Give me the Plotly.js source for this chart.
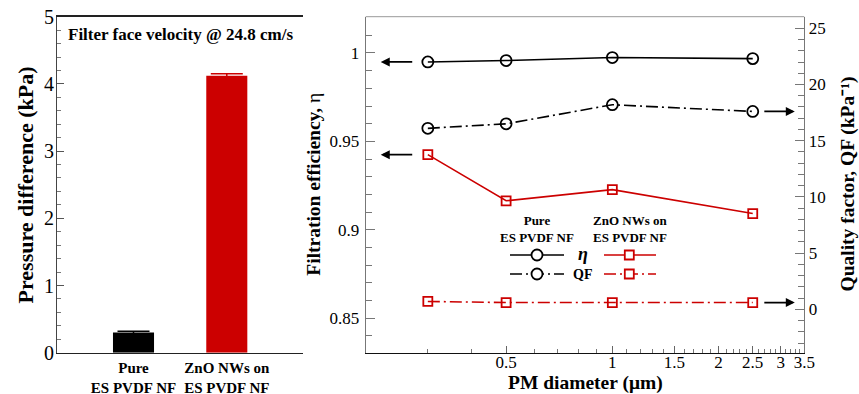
<!DOCTYPE html>
<html>
<head>
<meta charset="utf-8">
<script src="https://cdn.plot.ly/plotly-3.0.1.min.js"></script>
<style>html,body{margin:0;padding:0;background:#fff;}#chart{width:859px;height:394px;}</style>
</head>
<body>
<div id="chart"></div>
<script>
// ---- data ----
const categories = ['Pure<br>ES PVDF NF', 'ZnO NWs on<br>ES PVDF NF'];
const pressureDiff = [0.30, 4.12];
const pressureErr = [0.02, 0.03];
const barColors = ['#000000', '#cc0000'];

const pmDiameter = [0.3, 0.5, 1.0, 2.5];
const pureEta = [0.9949, 0.9957, 0.9974, 0.9968];
const znoEta = [0.9425, 0.9164, 0.9227, 0.9092];
const pureQF = [16.1, 16.5, 18.2, 17.6];
const znoQF = [0.7, 0.6, 0.6, 0.6];

const xTickVals = [0.5, 1, 1.5, 2, 2.5, 3, 3.5];
const xTickText = ['0.5', '1', '1.5', '2', '2.5', '3', '3.5'];

// ---- layout helpers ----
const W = 859, H = 394;
const FONT = 'Liberation Serif';
const RED = '#cc0000';
const px = v => v / W;
const py = v => 1 - v / H;
const yDom = [py(352.7), py(16.7)];
const dashDot = '12px,4px,2px,4px';

const minorX = [];
for (let k = 3; k <= 34; k++) { const v = k / 10; if (!xTickVals.some(t => Math.abs(t - v) < 1e-9)) minorX.push(v); }

const traces = [];
categories.forEach((c, i) => {
  traces.push({
    type: 'bar', x: [c], y: [pressureDiff[i]], xaxis: 'x', yaxis: 'y',
    width: 0.44, marker: {color: barColors[i], line: {width: 0}},
    error_y: {type: 'data', array: [pressureErr[i]], color: barColors[i], thickness: 1.5, width: 16},
    showlegend: false, hoverinfo: 'skip'
  });
});

traces.push({x: pmDiameter, y: pureEta, xaxis: 'x2', yaxis: 'y2', mode: 'lines+markers',
  line: {color: '#000', width: 1.6},
  marker: {symbol: 'circle-open', size: 11, color: '#000', line: {width: 1.8}}, showlegend: false});
traces.push({x: pmDiameter, y: znoEta, xaxis: 'x2', yaxis: 'y2', mode: 'lines+markers',
  line: {color: RED, width: 1.6},
  marker: {symbol: 'square-open', size: 9, color: RED, line: {width: 1.8}}, showlegend: false});
traces.push({x: pmDiameter, y: pureQF, xaxis: 'x2', yaxis: 'y3', mode: 'lines+markers',
  line: {color: '#000', width: 1.6, dash: dashDot},
  marker: {symbol: 'circle-open', size: 11, color: '#000', line: {width: 1.8}}, showlegend: false});
traces.push({x: pmDiameter, y: znoQF, xaxis: 'x2', yaxis: 'y3', mode: 'lines+markers',
  line: {color: RED, width: 1.6, dash: dashDot},
  marker: {symbol: 'square-open', size: 9, color: RED, line: {width: 1.8}}, showlegend: false});

// legend samples (hidden overlay axes, 0..1 over plot area)
const x2Dom = [px(365.7), px(804.3)];
const fx = v => (v - 365.7) / (804.3 - 365.7);
const fy = v => (352.7 - v) / (352.7 - 16.7);
const legRows = [
  {y: fy(255), dash: 'solid'},
  {y: fy(274), dash: dashDot}
];
legRows.forEach(r => {
  traces.push({x: [fx(510), fx(564)], y: [r.y, r.y], xaxis: 'x3', yaxis: 'y4', mode: 'lines',
    line: {color: '#000', width: 1.6, dash: r.dash}, showlegend: false, hoverinfo: 'skip'});
  traces.push({x: [fx(537)], y: [r.y], xaxis: 'x3', yaxis: 'y4', mode: 'markers',
    marker: {symbol: 'circle', size: 11, color: '#fff', line: {color: '#000', width: 1.8}}, showlegend: false, hoverinfo: 'skip'});
  traces.push({x: [fx(604), fx(656)], y: [r.y, r.y], xaxis: 'x3', yaxis: 'y4', mode: 'lines',
    line: {color: RED, width: 1.6, dash: r.dash}, showlegend: false, hoverinfo: 'skip'});
  traces.push({x: [fx(629.3)], y: [r.y], xaxis: 'x3', yaxis: 'y4', mode: 'markers',
    marker: {symbol: 'square', size: 9, color: '#fff', line: {color: RED, width: 1.8}}, showlegend: false, hoverinfo: 'skip'});
});

const arrowHeadLeftX = Math.log10(0.2206);
const arrowHeadRightX = Math.log10(3.29);
const last = pmDiameter.length - 1;

const arrowBase = {text: '', showarrow: true, arrowhead: 2, arrowsize: 1, arrowwidth: 1.8,
  arrowcolor: '#000', standoff: 0, startstandoff: 0, xref: 'x2'};

const bold = (size) => ({family: FONT, size: size, color: '#000', weight: 'bold'});

const annotations = [
  {text: 'Filter face velocity @ 24.8 cm/s', x: px(180), y: py(34.3), xref: 'paper', yref: 'paper',
    showarrow: false, font: bold(17), xanchor: 'center', yanchor: 'middle'},
  {text: 'Pressure difference (kPa)', x: px(25), y: py(185.5), xref: 'paper', yref: 'paper',
    showarrow: false, textangle: -90, font: bold(22), xanchor: 'center', yanchor: 'middle'},
  {text: '<b>Filtration efficiency,</b> η', x: px(314), y: py(184.7), xref: 'paper', yref: 'paper',
    showarrow: false, textangle: -90, font: {family: FONT, size: 19.5, color: '#000'}, xanchor: 'center', yanchor: 'middle'},
  {text: 'Quality factor, QF (kPa⁻¹)', x: px(847), y: py(184.5), xref: 'paper', yref: 'paper',
    showarrow: false, textangle: -90, font: bold(19.5), xanchor: 'center', yanchor: 'middle'},
  {text: 'PM diameter (μm)', x: px(585), y: py(383), xref: 'paper', yref: 'paper',
    showarrow: false, font: bold(19.5), xanchor: 'center', yanchor: 'middle'},
  {text: 'Pure<br>ES PVDF NF', x: px(537), y: py(229), xref: 'paper', yref: 'paper',
    showarrow: false, font: bold(13), xanchor: 'center', yanchor: 'middle'},
  {text: 'ZnO NWs on<br>ES PVDF NF', x: px(630), y: py(229), xref: 'paper', yref: 'paper',
    showarrow: false, font: bold(13), xanchor: 'center', yanchor: 'middle'},
  {text: '<i>η</i>', x: px(583.3), y: py(254), xref: 'paper', yref: 'paper',
    showarrow: false, font: bold(18), xanchor: 'center', yanchor: 'middle'},
  {text: 'QF', x: px(582), y: py(274.5), xref: 'paper', yref: 'paper',
    showarrow: false, font: bold(14), xanchor: 'center', yanchor: 'middle'},
  Object.assign({}, arrowBase, {x: arrowHeadLeftX, y: pureEta[0], yref: 'y2', ax: 33, ay: 0}),
  Object.assign({}, arrowBase, {x: arrowHeadLeftX, y: znoEta[0], yref: 'y2', ax: 33, ay: 0}),
  Object.assign({}, arrowBase, {x: arrowHeadRightX, y: pureQF[last], yref: 'y3', ax: -32, ay: 0}),
  Object.assign({}, arrowBase, {x: arrowHeadRightX, y: znoQF[last], yref: 'y3', ax: -32, ay: 0})
];

const grey = '#777';
const layout = {
  width: W, height: H, margin: {l: 0, r: 0, t: 0, b: 0},
  paper_bgcolor: '#fff', plot_bgcolor: '#fff',
  showlegend: false, barmode: 'overlay', hovermode: false,
  font: {family: FONT, color: '#000'},
  xaxis: {domain: [px(57), px(303.3)], anchor: 'y', type: 'category', range: [-0.82, 1.82],
    showgrid: false, zeroline: false, showline: true, linecolor: '#222', linewidth: 1.5, mirror: true,
    ticks: '', tickfont: bold(15), ticklabelstandoff: 1},
  yaxis: {domain: yDom, anchor: 'x', range: [0, 5], dtick: 1, showgrid: false, zeroline: false,
    showline: true, linecolor: '#444', linewidth: 1, ticks: 'inside', ticklen: 7, tickcolor: '#555',
    tickfont: {family: FONT, size: 20, color: '#000'}, ticklabelstandoff: -2,
    minor: {dtick: 0.2, ticks: 'inside', ticklen: 4, tickcolor: '#777', showgrid: false}},
  xaxis2: {domain: x2Dom, anchor: 'y2', type: 'log', range: [Math.log10(0.2), Math.log10(3.5)],
    tickmode: 'array', tickvals: xTickVals, ticktext: xTickText,
    showgrid: false, zeroline: false, showline: true, linecolor: '#111', linewidth: 1.5,
    ticks: 'inside', ticklen: 7, tickcolor: '#666', tickfont: {family: FONT, size: 17, color: '#000'},
    ticklabelstandoff: -7,
    minor: {tickmode: 'array', tickvals: minorX, ticks: 'inside', ticklen: 4, tickcolor: '#777', showgrid: false}},
  yaxis2: {domain: yDom, anchor: 'x2', range: [0.8305, 1.0205], tickmode: 'array',
    tickvals: [0.85, 0.9, 0.95, 1], ticktext: ['0.85', '0.9', '0.95', '1'],
    showgrid: false, zeroline: false, showline: true, linecolor: grey, linewidth: 1,
    ticks: 'inside', ticklen: 9, tickcolor: grey, tickfont: {family: FONT, size: 17, color: '#000'},
    ticklabelstandoff: 2,
    minor: {dtick: 0.01, tick0: 0.8, ticks: 'inside', ticklen: 6, tickcolor: grey, showgrid: false}},
  yaxis3: {domain: yDom, anchor: 'x2', overlaying: 'y2', side: 'right', range: [-3.86, 26.03],
    dtick: 5, tick0: 0, showgrid: false, zeroline: false, showline: true, linecolor: grey, linewidth: 1,
    ticks: 'inside', ticklen: 9, tickcolor: grey, tickfont: {family: FONT, size: 17, color: '#000'},
    minor: {dtick: 1, tick0: 0, ticks: 'inside', ticklen: 6, tickcolor: grey, showgrid: false}},
  xaxis3: {domain: x2Dom, anchor: 'y4', overlaying: 'x2', range: [0, 1], visible: false, fixedrange: true},
  yaxis4: {domain: yDom, anchor: 'x3', overlaying: 'y2', range: [0, 1], visible: false, fixedrange: true},
  shapes: [
    {type: 'line', xref: 'x2 domain', yref: 'y2 domain', x0: 0, x1: 1, y0: 1, y1: 1,
      line: {color: '#999', width: 1}}
  ],
  annotations: annotations
};

Plotly.newPlot('chart', traces, layout, {staticPlot: true, displayModeBar: false});
</script>
</body>
</html>
